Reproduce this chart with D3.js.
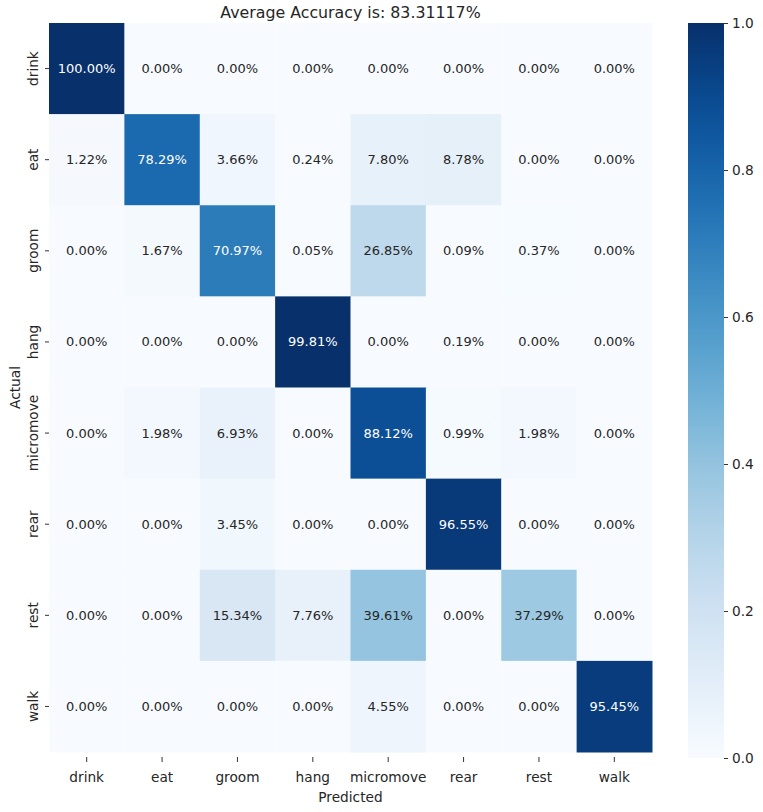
<!DOCTYPE html>
<html><head><meta charset="utf-8">
<script src="https://cdn.jsdelivr.net/npm/d3@7"></script>
<style>body{margin:0;background:#fff;} text{font-family:"DejaVu Sans",sans-serif;}</style>
</head><body><svg id="c" width="763" height="812"></svg>
<script>
const labels = ["drink","eat","groom","hang","micromove","rear","rest","walk"];
const row_drink = [100.00,0,0,0,0,0,0,0];
const row_eat = [1.22,78.29,3.66,0.24,7.80,8.78,0,0];
const row_groom = [0,1.67,70.97,0.05,26.85,0.09,0.37,0];
const row_hang = [0,0,0,99.81,0,0.19,0,0];
const row_micromove = [0,1.98,6.93,0,88.12,0.99,1.98,0];
const row_rear = [0,0,3.45,0,0,96.55,0,0];
const row_rest = [0,0,15.34,7.76,39.61,0,37.29,0];
const row_walk = [0,0,0,0,4.55,0,0,95.45];
const rows = [row_drink,row_eat,row_groom,row_hang,row_micromove,row_rear,row_rest,row_walk];
const cbTicks = [0,0.2,0.4,0.6,0.8,1.0];
const titleText = "Average Accuracy is: 83.31117%";

const svg = d3.select("#c");
const L=49,R=652,T=23,B=752;
const x = d3.scaleBand().domain(labels).range([L,R]);
const y = d3.scaleBand().domain(labels).range([T,B]);
const color = v => d3.interpolateBlues(v);

const cells=[];
rows.forEach((r,i)=>r.forEach((v,j)=>cells.push({a:labels[i],p:labels[j],v:v/100})));
svg.append("g").selectAll("rect").data(cells).join("rect")
  .attr("x",d=>x(d.p)).attr("y",d=>y(d.a)).attr("width",x.bandwidth()+0.5).attr("height",y.bandwidth()+0.5)
  .attr("fill",d=>color(d.v));
svg.append("g").selectAll("text").data(cells).join("text")
  .attr("x",d=>x(d.p)+x.bandwidth()/2).attr("y",d=>y(d.a)+y.bandwidth()/2)
  .attr("text-anchor","middle").attr("dominant-baseline","central")
  .attr("font-size",13)
  .attr("fill",d=>{const c=d3.lab(color(d.v)); return c.l<55?"#ffffff":"#262626";})
  .text(d=>(d.v*100).toFixed(2)+"%");

// axes
const xa = svg.append("g").attr("transform",`translate(0,${B+5})`).call(d3.axisBottom(x).tickSize(5).tickPadding(10));
xa.select(".domain").remove();
xa.selectAll("text").attr("font-size",13.7).attr("fill","#262626");
xa.selectAll("line").attr("stroke","#333");
const ya = svg.append("g").attr("transform",`translate(${L},0)`).call(d3.axisLeft(y).tickSize(4).tickPadding(5));
ya.select(".domain").remove();
ya.selectAll("line").attr("stroke","#333");
ya.selectAll("text").attr("font-size",13.7).attr("fill","#262626")
  .attr("text-anchor","middle").attr("transform","translate(-11,0) rotate(-90)").attr("x",0).attr("dy","0")
  .attr("dominant-baseline","auto");

svg.append("text").attr("x",(L+R)/2).attr("y",18).attr("text-anchor","middle").attr("font-size",15.8).attr("fill","#262626").text(titleText);
svg.append("text").attr("x",(L+R)/2).attr("y",802).attr("text-anchor","middle").attr("font-size",13.7).attr("fill","#262626").text("Predicted");
svg.append("text").attr("transform",`translate(20,${(T+B)/2}) rotate(-90)`).attr("text-anchor","middle").attr("font-size",13.7).attr("fill","#262626").text("Actual");

// colorbar
const cbL=688,cbW=36,cbT=23,cbB=758;
const cy = d3.scaleLinear().domain([0,1]).range([cbB,cbT]);
const defs=svg.append("defs");
const grad=defs.append("linearGradient").attr("id","g").attr("x1",0).attr("y1",1).attr("x2",0).attr("y2",0);
d3.range(0,1.0001,0.05).forEach(t=>grad.append("stop").attr("offset",t).attr("stop-color",color(t)));
svg.append("rect").attr("x",cbL).attr("y",cbT).attr("width",cbW).attr("height",cbB-cbT).attr("fill","url(#g)");
const ca=svg.append("g").attr("transform",`translate(${cbL+cbW},0)`).call(d3.axisRight(cy).tickValues(cbTicks).tickFormat(d3.format(".1f")).tickSize(4).tickPadding(4));
ca.select(".domain").remove();
ca.selectAll("text").attr("font-size",13.7).attr("fill","#262626");
ca.selectAll("line").attr("stroke","#333");
</script></body></html>
